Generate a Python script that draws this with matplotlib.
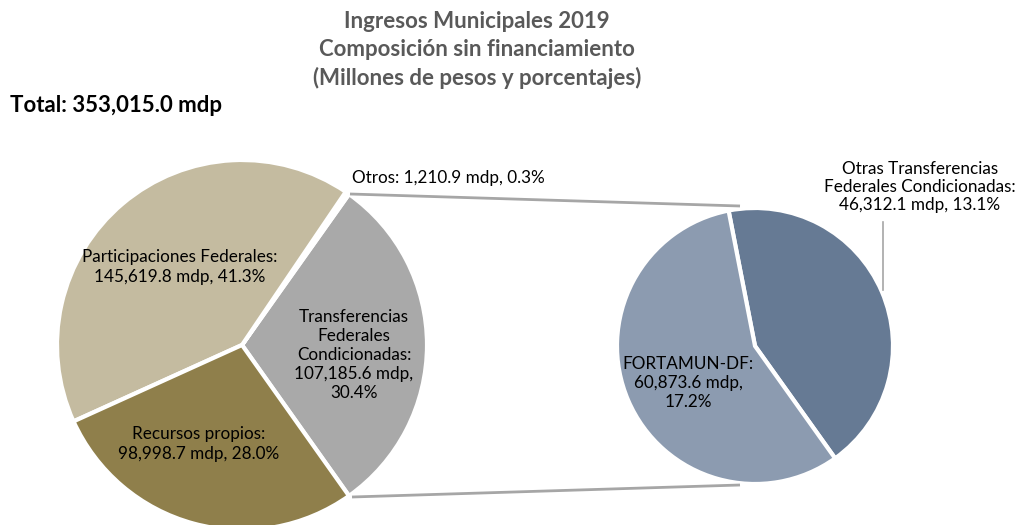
import matplotlib
matplotlib.use("Agg")
import matplotlib.pyplot as plt

plt.rcParams['font.family'] = ['Lato', 'DejaVu Sans']

# main pie (millones de pesos)
main_labels = ["Transferencias\nFederales\nCondicionadas:\n107,185.6 mdp,\n30.4%",
               "Otros",
               "Participaciones Federales:\n145,619.8 mdp, 41.3%",
               "Recursos propios:\n98,998.7 mdp, 28.0%"]
main_vals = [107185.6, 1210.9, 145619.8, 98998.7]
main_cols = ["#A9A9A9", "#D9D9D9", "#C4BBA0", "#8F7F4B"]

# desglose de transferencias condicionadas
sub_labels = ["Otras Transferencias\nFederales Condicionadas:\n46,312.1 mdp, 13.1%",
              "FORTAMUN-DF:\n60,873.6 mdp,\n17.2%"]
sub_vals = [46312.1, 60873.6]
sub_cols = ["#667A94", "#8C9BB0"]

W, H = 1019, 525
fig = plt.figure(figsize=(W/100, H/100), dpi=100)
ax = fig.add_axes([0, 0, 1, 1])

# y en pixeles desde arriba -> datos
def py(y):
    return H - y

c1 = (242, py(345)); r1 = 185
c2 = (755, py(346)); r2 = 138

frac_t = main_vals[0] / sum(main_vals)
ax.pie(main_vals, colors=main_cols, startangle=-frac_t*180, counterclock=True,
       center=c1, radius=r1, frame=True,
       wedgeprops=dict(edgecolor='white', linewidth=3))

ax.pie(sub_vals, colors=sub_cols, startangle=-54.5, counterclock=True,
       center=c2, radius=r2, frame=True,
       wedgeprops=dict(edgecolor='white', linewidth=3))
ax.set_xlim(0, W)
ax.set_ylim(0, H)
ax.set_aspect('equal')
ax.axis('off')

# lineas de conexion
ax.plot([350, 740], [py(194), py(206)], color='#A6A6A6', lw=2, solid_capstyle='butt')
ax.plot([352, 740], [py(497), py(485)], color='#A6A6A6', lw=2, solid_capstyle='butt')

fs = 12.3
ls = 1.25
ax.text(180, py(267), main_labels[2], ha='center', va='center', fontsize=fs, linespacing=ls)
ax.text(199, py(444), main_labels[3], ha='center', va='center', fontsize=fs, linespacing=ls)
ax.text(354, py(355), main_labels[0], ha='center', va='center', fontsize=fs, linespacing=ls)
ax.text(352, py(178), "Otros: 1,210.9 mdp, 0.3%", ha='left', va='center', fontsize=fs)
ax.text(688, py(383), sub_labels[1], ha='center', va='center', fontsize=fs, linespacing=ls)
ax.text(920, py(187), sub_labels[0], ha='center', va='center', fontsize=fs, linespacing=1.15)
ax.plot([883, 883], [py(222), py(290)], color='#A6A6A6', lw=1.2)

ax.text(477, py(50), "Ingresos Municipales 2019\nComposición sin financiamiento\n(Millones de pesos y porcentajes)",
        ha='center', va='center', fontsize=16, fontweight='bold', color='#595959', linespacing=1.38)
ax.text(10, py(105), "Total: 353,015.0 mdp", ha='left', va='center', fontsize=16,
        fontweight='bold', color='black')

fig.savefig("out.png", dpi=100)
